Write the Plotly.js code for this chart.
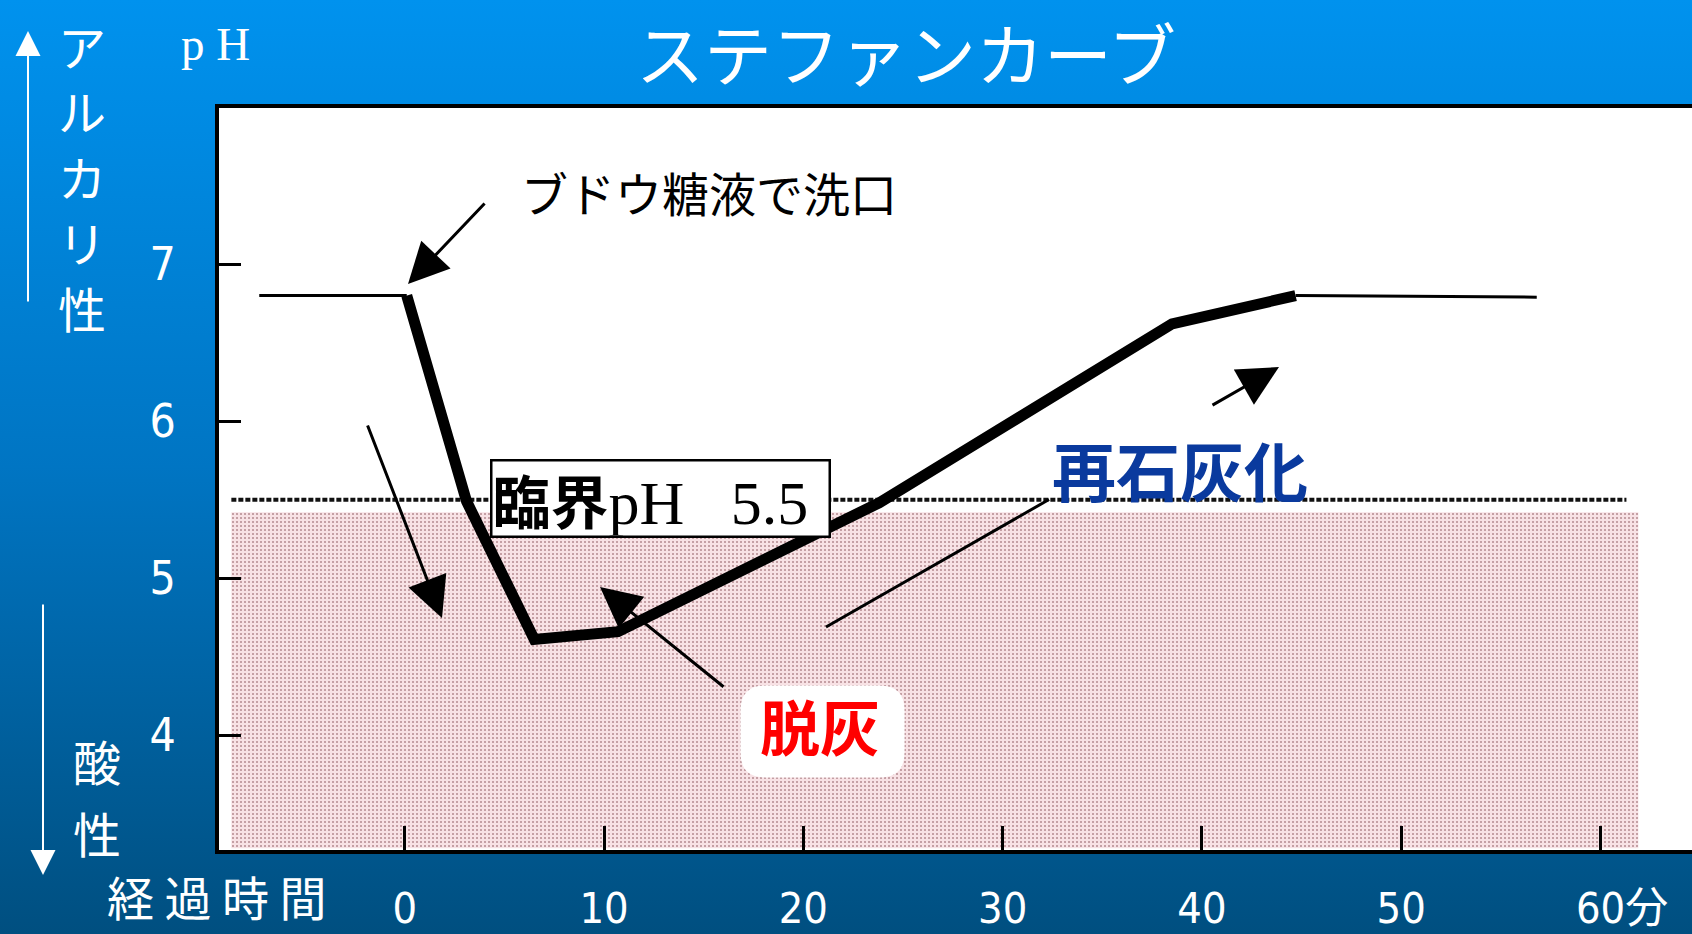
<!DOCTYPE html>
<html>
<head>
<meta charset="utf-8">
<script src="https://cdn.plot.ly/plotly-3.0.1.min.js"></script>
<style>
  html, body { margin: 0; padding: 0; width: 1692px; height: 934px; overflow: hidden;
    background: linear-gradient(to bottom, #0092EE 0%, #0075C3 50%, #004F80 100%); }
  #chart { width: 1692px; height: 934px; }
</style>
</head>
<body>
<div id="chart"></div>
<script>
// ---- data ----
const timeBefore = [-7.3, 0.1];
const phBefore   = [6.80, 6.80];
const timeCurve  = [0.1, 3.1, 6.5, 10.7, 23.8, 38.5, 44.7];
const phCurve    = [6.80, 5.49, 4.61, 4.66, 5.48, 6.62, 6.80];
const timeAfter  = [44.7, 56.8];
const phAfter    = [6.80, 6.79];
const criticalPH = 5.5;
const criticalX  = [-8.7, 61.3];
const zoneX      = [-8.7, 61.9];
const zoneTop    = 5.42;
const zoneBottom = 3.28;
const xTickVals  = [0, 10, 20, 30, 40, 50, 60];
const xTickText  = ['0', '10', '20', '30', '40', '50', '\u300060分'];
const yTickVals  = [4, 5, 6, 7];
const yTickText  = ['4', '5', '6', '7'];

// ---- pixel helpers for placing text (positions only) ----
const PL = 219, PR = 1692, PT = 108, PB = 850;
const xr = [-9.32, 64.59], yr = [3.269, 7.995];
const DX = px => xr[0] + (px - PL) / (PR - PL) * (xr[1] - xr[0]);
const DY = py => yr[1] - (py - PT) / (PB - PT) * (yr[1] - yr[0]);
const PX = px => (px - PL) / (PR - PL);
const PY = py => (PB - py) / (PB - PT);

const CJK = "'Noto Sans CJK JP', 'Noto Sans', sans-serif";
const NARROW = "'Liberation Sans Narrow', 'DejaVu Sans Condensed', 'Noto Sans CJK JP', sans-serif";
const SERIF = "'Liberation Serif', 'DejaVu Serif', serif";

const traces = [
  { // shaded demineralisation zone
    x: [zoneX[0], zoneX[1], zoneX[1], zoneX[0], zoneX[0]],
    y: [zoneBottom, zoneBottom, zoneTop, zoneTop, zoneBottom],
    mode: 'lines', fill: 'toself', line: { width: 0 },
    fillcolor: '#f3dcdf',
    fillpattern: { shape: '.', fgcolor: '#b48a90', bgcolor: '#f8e2e5', size: 4, solidity: 0.2 },
    hoverinfo: 'skip', showlegend: false
  },
  { // critical pH line
    x: criticalX, y: [criticalPH, criticalPH], mode: 'lines',
    line: { color: '#111', width: 4, dash: '5px,2px' }, showlegend: false
  },
  { x: timeBefore, y: phBefore, mode: 'lines', line: { color: '#000', width: 3 }, showlegend: false },
  { x: timeAfter, y: phAfter, mode: 'lines', line: { color: '#000', width: 3 }, showlegend: false },
  { x: timeCurve, y: phCurve, mode: 'lines', line: { color: '#000', width: 11 }, showlegend: false }
];

function arrow(tx, ty, sx, sy, head) {
  return { x: DX(tx), y: DY(ty), ax: DX(sx), ay: DY(sy), xref: 'x', yref: 'y', axref: 'x', ayref: 'y',
    text: '', showarrow: true, arrowhead: head, arrowwidth: 3, arrowsize: 2.7, arrowcolor: '#000' };
}
function ptext(t, px, py, size, opts) {
  return Object.assign({ x: PX(px), y: PY(py), xref: 'paper', yref: 'paper', text: t, showarrow: false,
    xanchor: 'center', yanchor: 'middle', font: { family: CJK, size: size, color: '#fff' } }, opts || {});
}

const annotations = [
  // left side arrows
  { x: PX(28), y: PY(31), ax: PX(28), ay: PY(303), xref: 'paper', yref: 'paper', axref: 'paper', ayref: 'paper',
    text: '', showarrow: true, arrowhead: 2, arrowwidth: 2, arrowsize: 2.5, arrowcolor: '#fff' },
  { x: PX(43), y: PY(875), ax: PX(43), ay: PY(603), xref: 'paper', yref: 'paper', axref: 'paper', ayref: 'paper',
    text: '', showarrow: true, arrowhead: 2, arrowwidth: 2, arrowsize: 2.5, arrowcolor: '#fff' },
  ptext('ア', 82, 45, 48), ptext('ル', 82, 110, 48), ptext('カ', 82, 176, 48),
  ptext('リ', 82, 241, 48), ptext('性', 82, 307, 48),
  ptext('酸', 97, 760, 48), ptext('性', 97, 832, 48),
  ptext('経 過 時 間', 217, 895, 47),
  ptext('p H', 215, 44, 47, { font: { family: SERIF, size: 47, color: '#fff' } }),
  // in-plot text
  { x: DX(709), y: DY(191), xref: 'x', yref: 'y', text: 'ブドウ糖液で洗口', showarrow: false,
    font: { family: CJK, size: 47, color: '#000' } },
  arrow(408, 284, 486, 202, 2),
  arrow(442, 618, 367, 424, 2),
  arrow(600, 587, 725, 688, 2),
  arrow(1279, 367, 1211, 406, 2),
  { x: DX(820), y: DY(724), xref: 'x', yref: 'y', text: '<b>脱灰</b>', showarrow: false,
    font: { family: CJK, size: 60, color: '#ff0000' } },
  { x: DX(1180), y: DY(468), xref: 'x', yref: 'y', text: '<b>再石灰化</b>', showarrow: false,
    font: { family: CJK, size: 64, color: '#0a3a9e' } },
  { x: DX(660), y: DY(498), xref: 'x', yref: 'y', showarrow: false,
    text: "<span style=\"font-family:'Noto Sans CJK JP';font-weight:bold;font-size:58px\">臨界</span>pH\u00a0\u00a0 5.5",
    font: { family: SERIF, size: 62, color: '#000' },
    bgcolor: '#fff', bordercolor: '#000', borderwidth: 2.5, borderpad: 0,
    width: 336, height: 74, align: 'left', valign: 'middle' }
];

const shapes = [
  { // rounded white label background behind 脱灰
    type: 'path', xref: 'x', yref: 'y', xsizemode: 'pixel', ysizemode: 'pixel',
    xanchor: DX(822.5), yanchor: DY(731.5), layer: 'above',
    path: 'M -57,46 L 57,46 Q 82,46 82,21 L 82,-21 Q 82,-46 57,-46 L -57,-46 Q -82,-46 -82,-21 L -82,21 Q -82,46 -57,46 Z',
    fillcolor: '#fff', line: { width: 0 } },
  { // pointer line for 再石灰化
    type: 'line', xref: 'x', yref: 'y', x0: DX(826), y0: DY(627), x1: DX(1049), y1: DY(499.5),
    line: { color: '#000', width: 3 }, layer: 'above' }
];

const layout = {
  width: 1692, height: 934,
  margin: { l: PL, r: 0, t: PT, b: 934 - PB, pad: 0 },
  paper_bgcolor: 'rgba(0,0,0,0)', plot_bgcolor: '#fff',
  title: { text: 'ステファンカーブ', font: { family: CJK, size: 68, color: '#fff' },
    xref: 'container', yref: 'container', x: 906 / 1692, y: 1 - 57 / 934, xanchor: 'center', yanchor: 'middle' },
  xaxis: { range: xr, tickvals: xTickVals, ticktext: xTickText, ticks: 'inside', ticklen: 24, tickwidth: 3,
    tickcolor: '#000', showline: true, linecolor: '#000', linewidth: 4, mirror: true,
    showgrid: false, zeroline: false, ticklabelstandoff: 17,
    tickfont: { family: NARROW, size: 43, color: '#fff' } },
  yaxis: { range: yr, tickvals: yTickVals, ticktext: yTickText, ticks: 'inside', ticklen: 22, tickwidth: 3,
    tickcolor: '#000', showline: true, linecolor: '#000', linewidth: 4, mirror: false,
    showgrid: false, zeroline: false, ticklabelstandoff: 30,
    tickfont: { family: NARROW, size: 46, color: '#fff' } },
  annotations: annotations,
  shapes: shapes,
  showlegend: false
};

Plotly.newPlot('chart', traces, layout, { staticPlot: true });
</script>
</body>
</html>
